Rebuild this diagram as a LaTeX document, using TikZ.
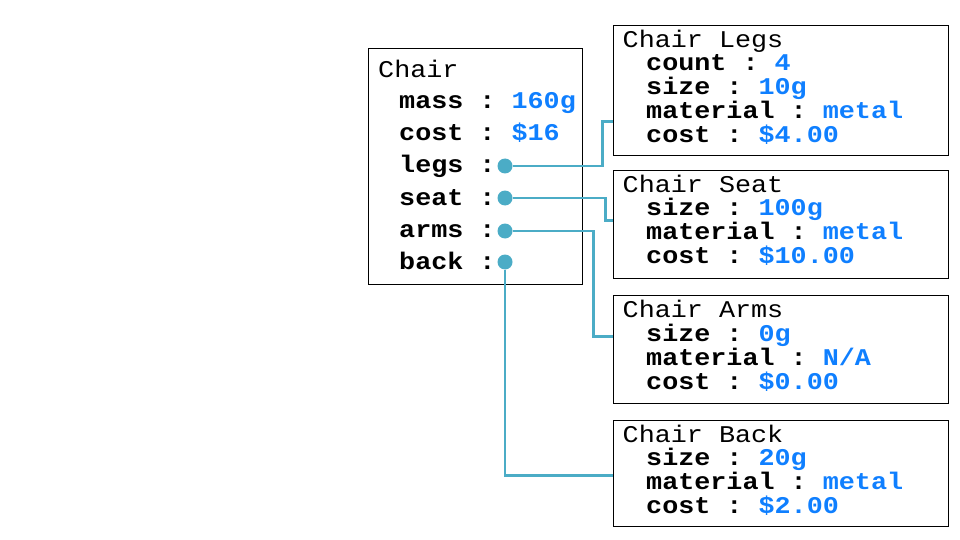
\documentclass[tikz,border=0pt]{standalone}
\usepackage{fontspec}
\setmonofont[FakeStretch=1.115]{Liberation Mono}
\definecolor{wirec}{HTML}{4BACC6}
\definecolor{valc}{HTML}{0F7FFF}
\newcommand{\kv}[2]{\textbf{#1 :} \textcolor{valc}{\textbf{#2}}}
\begin{document}
\begin{tikzpicture}[x=1pt,y=-1pt,
	box/.style={draw,line width=1pt,anchor=north west,inner sep=0pt,minimum width=335pt},
	txt/.style={anchor=base west,inner sep=0pt,text height=16pt,text depth=5pt,font=\fontsize{24}{24}\selectfont\ttfamily},
	wire/.style={draw=wirec,line width=2.8pt},
	dot/.style={circle,fill=wirec,inner sep=0pt,minimum size=15pt}]
	\useasboundingbox (0,0) rectangle (960,540);
	%Khung Chair
	\node[box,minimum width=214pt,minimum height=236pt] (chair) at (367.5,48) {};
	\node[txt] (ctitle) at (378,78) {Chair};
	\node[txt] (cmass) at (399,109) {\kv{mass}{160g}};
	\node[txt] (ccost) at (399,141) {\kv{cost}{\$16}};
	\node[txt] (clegs) at (399,173) {\textbf{legs :}};
	\node[txt] (cseat) at (399,205) {\textbf{seat :}};
	\node[txt] (carms) at (399,237) {\textbf{arms :}};
	\node[txt] (cback) at (399,269) {\textbf{back :}};
	%Cham
	\node[dot] (dlegs) at (505,166) {};
	\node[dot] (dseat) at (505,198) {};
	\node[dot] (darms) at (505,231) {};
	\node[dot] (dback) at (505,262) {};
	%Khung Legs
	\node[box,minimum height=130pt] (legs) at (613,25) {};
	\node[txt] (ltitle) at (622.5,47.5) {Chair Legs};
	\node[txt] (lcount) at (646,71) {\kv{count}{4}};
	\node[txt] (lsize) at (646,95) {\kv{size}{10g}};
	\node[txt] (lmat) at (646,119) {\kv{material}{metal}};
	\node[txt] (lcost) at (646,143) {\kv{cost}{\$4.00}};
	%Khung Seat
	\node[box,minimum height=108pt] (seat) at (613,170) {};
	\node[txt] (stitle) at (622.5,192) {Chair Seat};
	\node[txt] (ssize) at (646,215.5) {\kv{size}{100g}};
	\node[txt] (smat) at (646,239.5) {\kv{material}{metal}};
	\node[txt] (scost) at (646,263.5) {\kv{cost}{\$10.00}};
	%Khung Arms
	\node[box,minimum height=108pt] (arms) at (613,295) {};
	\node[txt] (atitle) at (622.5,317) {Chair Arms};
	\node[txt] (asize) at (646,341.5) {\kv{size}{0g}};
	\node[txt] (amat) at (646,365.5) {\kv{material}{N/A}};
	\node[txt] (acost) at (646,389) {\kv{cost}{\$0.00}};
	%Khung Back
	\node[box,minimum height=106pt] (back) at (613,420) {};
	\node[txt] (btitle) at (622.5,442) {Chair Back};
	\node[txt] (bsize) at (646,465.5) {\kv{size}{20g}};
	\node[txt] (bmat) at (646,489.5) {\kv{material}{metal}};
	\node[txt] (bcost) at (646,513.5) {\kv{cost}{\$2.00}};
	%Duong noi
	\draw[wire] (dlegs.east) -- ++(90,0) |- ([yshift=-31pt]legs.west);
	\draw[wire] (dseat.east) -- ++(93,0) |- ([yshift=4pt]seat.west);
	\draw[wire] (darms.east) -- ++(81,0) |- ([yshift=13pt]arms.west);
	\draw[wire] (dback.south) |- ([yshift=-2pt]back.west);
\end{tikzpicture}
\end{document}
